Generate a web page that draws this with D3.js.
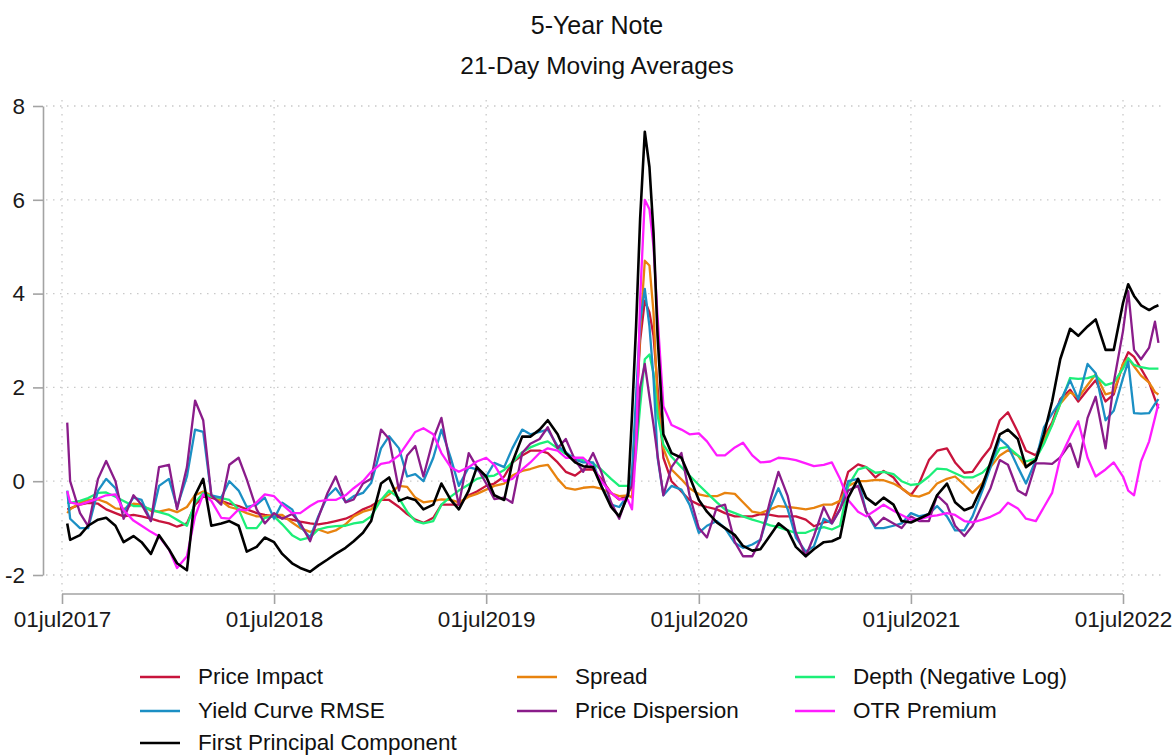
<!DOCTYPE html>
<html>
<head>
<meta charset="utf-8">
<script src="https://cdn.jsdelivr.net/npm/d3@7"></script>
<style>
  body { margin: 0; background: #fff; }
  svg { font-family: "Liberation Sans", Arial, sans-serif; }
</style>
</head>
<body>
<div id="chart"></div>
<script>
// sample dates (roughly twice a month, weekly around the March 2020 spike)
const dates = [
  "2017-07-10","2017-07-15","2017-08-01","2017-08-15","2017-09-01","2017-09-15","2017-10-01","2017-10-15","2017-11-01","2017-11-15","2017-12-01","2017-12-15",
  "2018-01-01","2018-01-15","2018-02-01","2018-02-15","2018-03-01","2018-03-15","2018-04-01","2018-04-15","2018-05-01","2018-05-15","2018-06-01","2018-06-15",
  "2018-07-01","2018-07-15","2018-08-01","2018-08-15","2018-09-01","2018-09-15","2018-10-01","2018-10-15","2018-11-01","2018-11-15","2018-12-01","2018-12-15",
  "2019-01-01","2019-01-15","2019-02-01","2019-02-15","2019-03-01","2019-03-15","2019-04-01","2019-04-15","2019-05-01","2019-05-15","2019-06-01","2019-06-15",
  "2019-07-01","2019-07-15","2019-08-01","2019-08-15","2019-09-01","2019-09-15","2019-10-01","2019-10-15","2019-11-01","2019-11-15","2019-12-01","2019-12-15",
  "2020-01-01","2020-01-15","2020-02-01","2020-02-15","2020-03-01","2020-03-08","2020-03-15","2020-03-22","2020-03-30","2020-04-07","2020-04-14","2020-04-21",
  "2020-05-01","2020-05-15","2020-06-01","2020-06-15","2020-07-01","2020-07-15","2020-08-01","2020-08-15","2020-09-01","2020-09-15","2020-10-01","2020-10-15",
  "2020-11-01","2020-11-15","2020-12-01","2020-12-15",
  "2021-01-01","2021-01-15","2021-02-01","2021-02-15","2021-03-01","2021-03-15","2021-04-01","2021-04-15","2021-05-01","2021-05-15","2021-06-01","2021-06-15",
  "2021-07-01","2021-07-15","2021-08-01","2021-08-15","2021-09-01","2021-09-15","2021-10-01","2021-10-15","2021-11-01","2021-11-15","2021-12-01","2021-12-15",
  "2022-01-01","2022-01-15","2022-02-01","2022-02-15","2022-03-01","2022-03-15","2022-04-01","2022-04-15","2022-05-01","2022-05-15","2022-06-01","2022-06-15",
  "2022-07-01","2022-07-10","2022-07-20","2022-08-01","2022-08-15","2022-08-25","2022-08-31"
]

const priceImpact = [
  -0.6,-0.58,-0.5,-0.46,-0.48,-0.6,-0.68,-0.75,-0.72,-0.75,-0.8,-0.85,
  -0.9,-0.97,-0.9,-0.5,-0.33,-0.35,-0.42,-0.48,-0.53,-0.6,-0.68,-0.72,-0.75,-0.78,-0.82,-0.86,-0.9,-0.92,-0.89,-0.85,-0.8,-0.72,-0.6,-0.53,
  -0.4,-0.4,-0.55,-0.7,-0.82,-0.89,-0.78,-0.5,-0.5,-0.5,-0.3,-0.22,-0.1,-0.05,0.1,0.4,0.55,0.65,0.65,0.6,0.4,0.2,0.12,0.25,
  0.25,0.05,-0.25,-0.39,-0.3,0.0,1.5,3.0,3.85,3.6,3.1,2.0,0.5,0.0,-0.22,-0.4,-0.5,-0.55,-0.6,-0.68,-0.75,-0.75,-0.75,-0.7,-0.72,-0.75,-0.75,-0.75,
  -0.82,-0.96,-0.88,-0.85,-0.4,0.2,0.36,0.3,0.08,0.22,0.08,-0.15,-0.3,-0.05,0.45,0.65,0.7,0.4,0.18,0.2,0.5,0.72,1.3,1.47,
  1.05,0.65,0.55,0.95,1.25,1.75,1.95,1.7,1.95,2.15,1.7,1.85,2.5,2.75,2.65,2.4,2.1,1.75,1.55
]
const spread = [
  -0.68,-0.6,-0.46,-0.4,-0.39,-0.45,-0.58,-0.6,-0.48,-0.5,-0.63,-0.65,
  -0.6,-0.66,-0.55,-0.3,-0.22,-0.3,-0.42,-0.55,-0.6,-0.68,-0.75,-0.75,-0.72,-0.72,-0.88,-1.0,-1.08,-1.03,-1.1,-1.05,-0.92,-0.75,-0.65,-0.6,
  -0.4,-0.28,-0.1,-0.12,-0.35,-0.45,-0.42,-0.39,-0.4,-0.45,-0.33,-0.27,-0.18,-0.1,-0.05,0.12,0.22,0.26,0.32,0.35,0.05,-0.14,-0.18,-0.14,
  -0.12,-0.16,-0.26,-0.32,-0.3,-0.35,1.4,3.2,4.7,4.6,3.6,1.7,0.7,0.25,0.04,-0.15,-0.28,-0.32,-0.32,-0.25,-0.27,-0.45,-0.65,-0.68,-0.6,-0.53,-0.55,-0.57,
  -0.6,-0.57,-0.5,-0.5,-0.42,-0.1,0.0,0.0,0.03,0.02,-0.05,-0.15,-0.3,-0.33,-0.25,-0.05,0.05,0.1,-0.08,-0.25,-0.04,0.3,0.55,0.66,
  0.55,0.3,0.5,0.9,1.2,1.65,1.9,1.78,2.05,2.28,1.85,1.9,2.5,2.62,2.45,2.25,2.1,1.9,1.85
]
const depth = [
  -0.46,-0.46,-0.42,-0.36,-0.25,-0.24,-0.33,-0.42,-0.53,-0.53,-0.6,-0.66,
  -0.72,-0.82,-0.95,-0.46,-0.25,-0.33,-0.36,-0.4,-0.6,-1.0,-1.0,-0.78,-0.75,-0.92,-1.15,-1.25,-1.2,-1.03,-0.98,-0.96,-0.95,-0.9,-0.87,-0.75,
  -0.4,-0.2,-0.36,-0.65,-0.85,-0.9,-0.85,-0.5,-0.33,-0.2,-0.07,0.05,0.1,0.12,0.24,0.4,0.62,0.72,0.8,0.85,0.7,0.58,0.5,0.45,
  0.38,0.25,0.05,-0.1,-0.1,-0.1,0.6,1.6,2.6,2.7,2.3,1.4,0.78,0.52,0.3,0.12,-0.08,-0.25,-0.45,-0.6,-0.68,-0.75,-0.82,-0.87,-0.94,-0.98,-1.05,-1.1,
  -1.1,-1.03,-0.98,-1.03,-0.95,-0.1,0.25,0.3,0.18,0.2,0.15,0.0,-0.08,-0.06,0.1,0.27,0.25,0.17,0.08,0.08,0.18,0.35,0.7,0.73,
  0.55,0.42,0.48,0.8,1.2,1.65,2.2,2.18,2.2,2.25,2.05,2.1,2.4,2.62,2.48,2.43,2.4,2.4,2.4
]
const yieldRmse = [
  -0.2,-0.8,-1.0,-1.0,-0.2,0.05,-0.15,-0.65,-0.35,-0.4,-0.85,-0.1,
  0.05,-0.55,0.1,1.1,1.05,-0.3,-0.35,0.0,-0.2,-0.55,-0.5,-0.35,-0.8,-0.46,-0.6,-0.96,-1.2,-0.75,-0.32,-0.15,-0.44,-0.32,-0.25,-0.04,
  0.7,0.96,0.7,0.1,0.15,0.0,0.5,1.1,0.5,-0.1,0.3,0.25,0.1,0.39,0.3,0.7,1.1,1.0,1.05,1.1,0.75,0.62,0.46,0.4,
  0.4,-0.1,-0.5,-0.55,-0.3,0.2,1.8,3.4,4.1,3.3,2.2,0.5,-0.3,-0.1,-0.18,-0.5,-1.1,-0.95,-0.85,-1.0,-1.32,-1.42,-1.35,-1.25,-0.55,-0.15,-0.6,-1.2,
  -1.5,-1.39,-0.8,-0.9,-0.6,0.0,0.05,-0.65,-1.0,-1.0,-0.95,-0.9,-0.68,-0.75,-0.7,-0.53,-0.75,-1.05,-1.05,-0.75,-0.2,0.3,0.9,0.75,
  0.3,-0.05,0.45,1.15,1.44,1.7,2.15,1.75,2.5,2.3,1.3,1.5,2.2,2.55,1.45,1.44,1.45,1.65,1.75
]
const priceDispersion = [
  1.25,0.0,-0.68,-0.96,0.05,0.43,0.0,-0.8,-0.3,-0.5,-0.85,0.3,
  0.35,-0.6,0.3,1.72,1.3,-0.3,-0.5,0.35,0.5,0.04,-0.6,-0.9,-0.68,-0.8,-0.7,-0.89,-1.28,-0.78,-0.25,0.1,-0.45,-0.39,-0.05,0.05,
  1.1,0.9,-0.2,0.55,0.75,0.1,0.9,1.35,0.3,-0.5,0.6,0.3,-0.05,-0.38,-0.35,-0.46,0.6,0.8,0.9,1.15,0.7,0.9,0.45,0.2,
  0.6,0.2,-0.45,-0.8,-0.25,-0.1,0.8,2.0,2.5,1.8,1.2,0.55,-0.3,0.3,0.6,-0.3,-1.0,-1.2,-0.55,-0.5,-1.3,-1.6,-1.6,-1.25,-0.4,0.2,-0.32,-1.1,
  -1.6,-1.17,-0.55,-0.9,-0.6,-0.2,-0.1,-0.65,-0.95,-0.78,-0.9,-1.0,-0.75,-0.85,-0.85,-0.3,-0.5,-0.95,-1.17,-0.95,-0.5,-0.15,0.45,0.35,
  -0.2,-0.3,0.38,0.38,0.37,0.51,0.8,0.3,1.35,1.8,0.7,2.1,3.2,4.05,2.8,2.6,2.85,3.4,2.95
]
const otrPremium = [
  -0.21,-0.45,-0.5,-0.44,-0.37,-0.3,-0.28,-0.62,-0.84,-0.95,-1.08,-1.18,
  -1.45,-1.85,-1.6,-0.75,-0.28,-0.42,-0.78,-0.8,-0.6,-0.62,-0.45,-0.28,-0.32,-0.5,-0.68,-0.68,-0.53,-0.43,-0.4,-0.4,-0.3,-0.15,0.0,0.2,
  0.37,0.4,0.55,0.8,1.05,1.13,1.0,0.6,0.3,0.2,0.3,0.42,0.5,0.35,0.0,0.05,0.25,0.4,0.6,0.7,0.65,0.5,0.5,0.5,
  0.3,0.0,-0.25,-0.38,-0.4,-0.6,0.7,3.9,6.0,5.8,5.0,3.5,1.6,1.2,1.1,1.0,1.02,0.85,0.55,0.55,0.72,0.82,0.55,0.4,0.42,0.5,0.48,0.45,
  0.38,0.32,0.35,0.4,0.05,-0.4,-0.65,-0.75,-0.62,-0.5,-0.63,-0.72,-0.82,-0.82,-0.75,-0.73,-0.68,-0.72,-0.85,-0.88,-0.82,-0.76,-0.66,-0.46,
  -0.58,-0.8,-0.85,-0.55,-0.25,0.5,0.95,1.28,0.5,0.1,0.25,0.4,0.1,-0.2,-0.3,0.42,0.85,1.35,1.65
]
const firstPC = [
  -0.9,-1.25,-1.15,-0.95,-0.82,-0.78,-0.95,-1.3,-1.17,-1.3,-1.55,-1.15,
  -1.45,-1.75,-1.9,-0.3,0.05,-0.95,-0.9,-0.85,-0.95,-1.5,-1.4,-1.2,-1.3,-1.55,-1.75,-1.85,-1.93,-1.8,-1.67,-1.55,-1.42,-1.28,-1.1,-0.85,
  -0.05,0.08,-0.42,-0.35,-0.4,-0.6,-0.5,-0.05,-0.4,-0.6,-0.2,0.3,0.1,-0.3,-0.4,0.4,0.95,0.95,1.1,1.3,1.0,0.6,0.4,0.32,
  0.3,-0.1,-0.55,-0.75,-0.3,1.4,3.3,5.6,7.45,6.7,5.3,3.1,1.0,0.6,0.5,0.1,-0.4,-0.65,-0.88,-1.0,-1.15,-1.38,-1.48,-1.45,-1.15,-0.9,-1.05,-1.4,
  -1.6,-1.45,-1.3,-1.28,-1.2,-0.35,0.05,-0.35,-0.5,-0.35,-0.5,-0.85,-0.88,-0.8,-0.7,-0.3,-0.05,-0.45,-0.62,-0.55,-0.1,0.4,1.0,1.1,
  0.9,0.3,0.45,1.0,1.7,2.6,3.25,3.1,3.3,3.45,2.8,2.8,3.8,4.2,3.95,3.75,3.65,3.72,3.75
]

const seriesNames = ["Price Impact", "Spread", "Depth (Negative Log)", "Yield Curve RMSE", "Price Dispersion", "OTR Premium", "First Principal Component"]
const seriesValues = [priceImpact, spread, depth, yieldRmse, priceDispersion, otrPremium, firstPC]
const seriesColors = ["#c8143c", "#e8830f", "#1cef78", "#1b8fc4", "#8a1c8a", "#ff1cff", "#000000"]
const seriesWidths = [2.3, 2.3, 2.3, 2.3, 2.3, 2.3, 2.6]

const yTicks = [-2, 0, 2, 4, 6, 8]
const xTicks = ["2017-07-01", "2018-07-01", "2019-07-01", "2020-07-01", "2021-07-01", "2022-07-01"]

const width = 1175
const height = 755
const parse = d3.timeParse("%Y-%m-%d")
const fmt = d3.timeFormat("%d%b%Y")

const svg = d3.select("#chart").append("svg").attr("width", width).attr("height", height)

const x = d3.scaleTime().domain([parse(xTicks[0]), parse(xTicks[xTicks.length - 1])]).range([62, 1123])
const y = d3.scaleLinear().domain([-2, 8]).range([575, 106])

// grid
svg.append("g")
  .selectAll("line")
  .data(yTicks)
  .enter()
  .append("line")
  .attr("x1", 46)
  .attr("x2", 1162)
  .attr("y1", (d) => y(d))
  .attr("y2", (d) => y(d))
  .attr("stroke", "#c9c9c9")
  .attr("stroke-width", 1.3)
  .attr("stroke-dasharray", "1.5,5.5")

svg.append("g")
  .selectAll("line")
  .data(xTicks)
  .enter()
  .append("line")
  .attr("x1", (d) => x(parse(d)))
  .attr("x2", (d) => x(parse(d)))
  .attr("y1", 100)
  .attr("y2", 592)
  .attr("stroke", "#c9c9c9")
  .attr("stroke-width", 1.3)
  .attr("stroke-dasharray", "1.5,5.5")

// axes
const xAxis = svg.append("g")
  .attr("transform", "translate(0,594)")
  .call(d3.axisBottom(x).tickValues(xTicks.map(parse)).tickSize(10).tickPadding(7).tickFormat((d) => fmt(d).toLowerCase()))

const yAxis = svg.append("g")
  .attr("transform", "translate(43,0)")
  .call(d3.axisLeft(y).tickValues(yTicks).tickSize(10).tickPadding(8).tickSizeOuter(0).tickFormat((d) => String(d)))

;[xAxis, yAxis].forEach((g) => {
  g.select(".domain").attr("stroke", "#a3a3a3").attr("stroke-width", 1.6)
  g.selectAll(".tick line").attr("stroke", "#a3a3a3").attr("stroke-width", 1.6)
  g.selectAll(".tick text").attr("fill", "#1a1a1a").attr("font-size", 22.5).attr("font-family", "Liberation Sans, Arial, sans-serif")
})
xAxis.select(".domain").attr("d", `M${x.range()[0]},0H${x.range()[1]}`)

// lines
const line = d3.line()
  .x((d, i) => x(parse(dates[i])))
  .y((d) => y(d))

seriesValues.forEach((vals, k) => {
  svg.append("path")
    .datum(vals)
    .attr("fill", "none")
    .attr("stroke", seriesColors[k])
    .attr("stroke-width", seriesWidths[k])
    .attr("stroke-linejoin", "round")
    .attr("d", line)
})

// titles
svg.append("text").attr("x", 597).attr("y", 34).attr("text-anchor", "middle").attr("font-size", 25).attr("fill", "#111").text("5-Year Note")
svg.append("text").attr("x", 597).attr("y", 74).attr("text-anchor", "middle").attr("font-size", 24.5).attr("fill", "#111").text("21-Day Moving Averages")

// legend
const legX = [140, 517, 795]
const legY = [677, 711, 743]
const legend = svg.append("g")
seriesNames.forEach((name, k) => {
  const cx = legX[k % 3]
  const cy = legY[Math.floor(k / 3)]
  legend.append("line").attr("x1", cx).attr("x2", cx + 40).attr("y1", cy).attr("y2", cy)
    .attr("stroke", seriesColors[k]).attr("stroke-width", 2.6)
  legend.append("text").attr("x", cx + 58).attr("y", cy + 7).attr("font-size", 22.5).attr("fill", "#111").text(name)
})
</script>
</body>
</html>
